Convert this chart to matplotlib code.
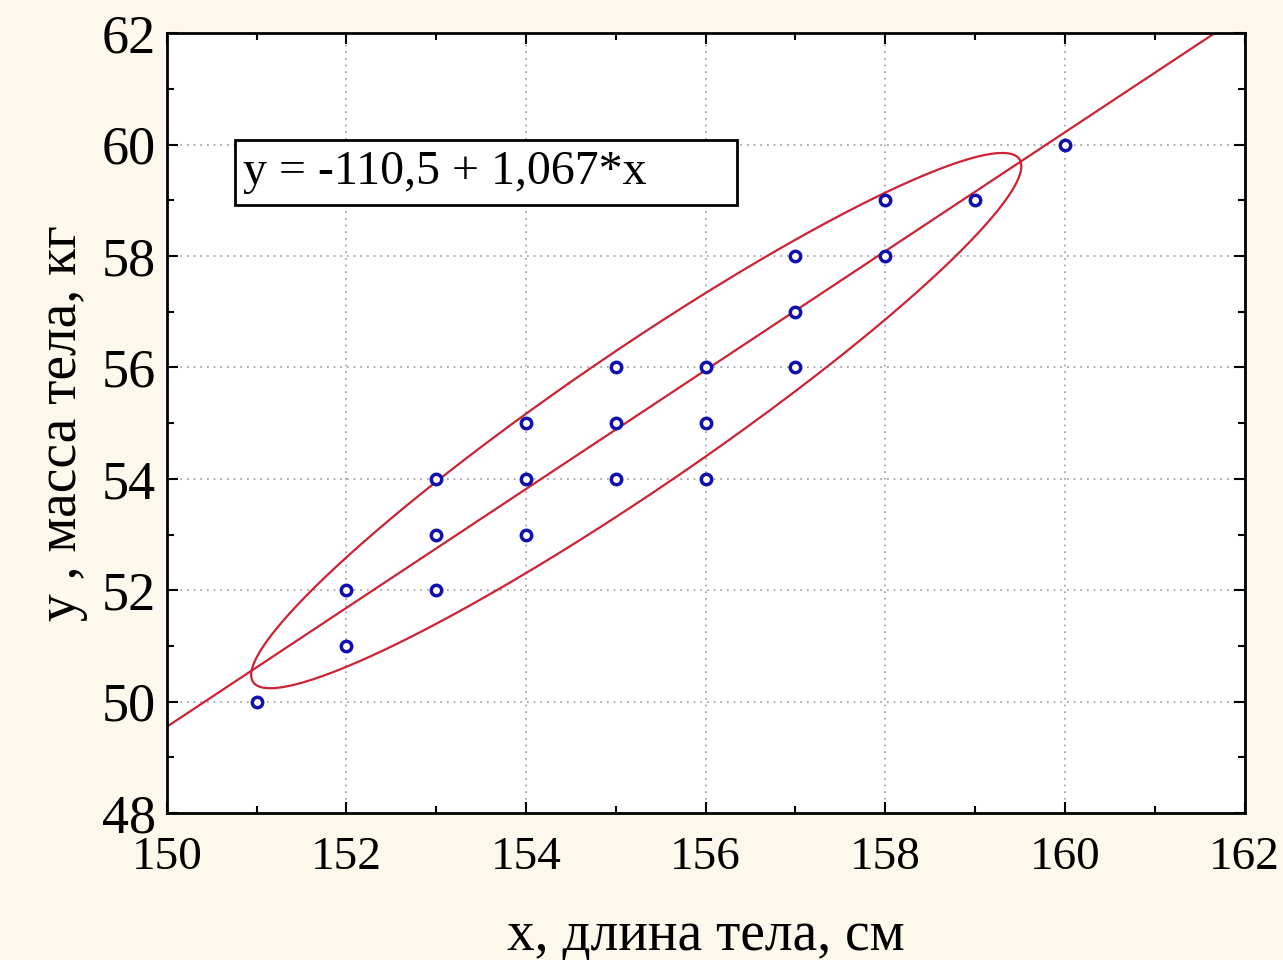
import numpy as np
import matplotlib
matplotlib.use("Agg")
import matplotlib.pyplot as plt
from matplotlib.ticker import MultipleLocator
from matplotlib.patches import Rectangle

# Данные: длина тела (x) и масса тела (y)
dlina = [151, 152, 152, 153, 153, 153, 154, 154, 154, 155, 155,
         155, 156, 156, 156, 157, 157, 157, 158, 158, 159, 160]
massa = [50, 51, 52, 52, 53, 54, 53, 54, 55, 54, 55,
         56, 54, 55, 56, 56, 57, 58, 58, 59, 59, 60]

# Уравнение регрессии
b0 = -110.5
b1 = 1.067
uravnenie = "y = -110,5 + 1,067*x"

# Параметр эллипса (масштаб по ковариации)
k_ell = 1.78

plt.rcParams["font.family"] = ["Liberation Serif", "DejaVu Serif"]

fig = plt.figure(figsize=(12.83, 9.6), dpi=100, facecolor="#fdf8ec")
ax = fig.add_axes([0.130, 0.153, 0.840, 0.8125])
ax.set_facecolor("white")

x = np.array(dlina, dtype=float)
y = np.array(massa, dtype=float)

# Эллипс по выборочной ковариации
cov = np.cov(x, y)
vals, vecs = np.linalg.eigh(cov)
t = np.linspace(0, 2 * np.pi, 400)
circ = np.vstack([np.cos(t), np.sin(t)])
ell = vecs @ (np.sqrt(vals)[:, None] * circ) * k_ell
ax.plot(ell[0] + x.mean(), ell[1] + y.mean(), color="#cc2233", lw=1.6, zorder=2)

# Линия регрессии
xl = np.array([150, 162])
ax.plot(xl, b0 + b1 * xl, color="#cc2233", lw=1.6, zorder=2)

ax.plot(x, y, "o", ms=7.5, mfc="white", mec="#1010b0", mew=2.5, zorder=3)

ax.set_xlim(150, 162)
ax.set_ylim(48, 62)
ax.xaxis.set_major_locator(MultipleLocator(2))
ax.xaxis.set_minor_locator(MultipleLocator(1))
ax.yaxis.set_major_locator(MultipleLocator(2))
ax.yaxis.set_minor_locator(MultipleLocator(1))
ax.tick_params(which="both", direction="in", top=True, right=True, width=1.5)
ax.tick_params(which="major", length=8)
ax.tick_params(which="minor", length=5)
ax.tick_params(axis="x", labelsize=34, pad=17)
ax.tick_params(axis="y", labelsize=39, pad=8)
ax.grid(True, which="major", linestyle=(0, (1, 3)), color="#999999", lw=1.2)
for s in ax.spines.values():
    s.set_linewidth(2)

ax.set_xlabel("x, длина тела, см", fontsize=40, labelpad=22)
ax.set_ylabel("y , масса тела, кг", fontsize=40, labelpad=10)

# Рамка с уравнением
ax.add_patch(Rectangle((0.0631, 0.7795), 0.4657, 0.0833, transform=ax.transAxes,
                       fc="white", ec="black", lw=2, zorder=4))
ax.text(0.0705, 0.8218, uravnenie, transform=ax.transAxes, fontsize=34.5,
        va="center", ha="left", zorder=5)

fig.savefig("out.png", dpi=100, facecolor=fig.get_facecolor())
